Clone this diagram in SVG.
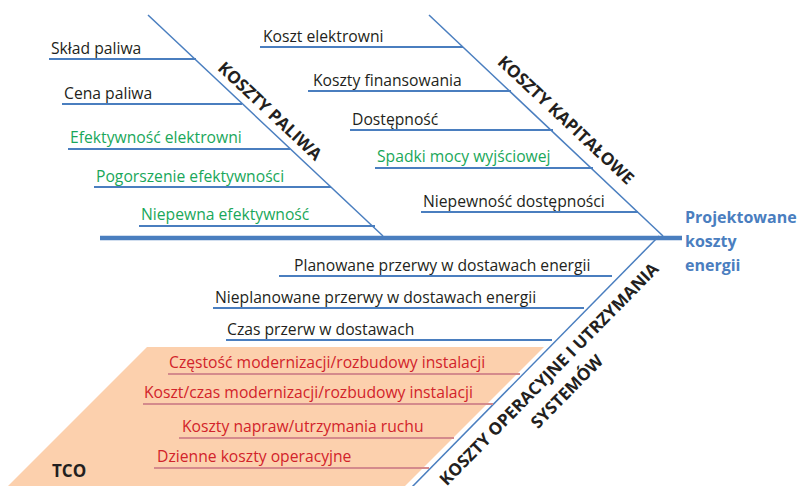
<svg xmlns="http://www.w3.org/2000/svg" width="804" height="486" viewBox="0 0 804 486">
<style>
.t{font-family:"Open Sans","Liberation Sans",sans-serif;font-size:15.7px;fill:#231f20}
.g{fill:#1aa75a}
.r{fill:#d2232a}
.b{font-family:"Open Sans","Liberation Sans",sans-serif;font-weight:bold;font-size:17px;fill:#231f20}
.res{font-family:"Open Sans","Liberation Sans",sans-serif;font-weight:bold;font-size:16px;fill:#4a7ebf}
.bl{stroke:#4a7ebf;stroke-width:2;fill:none}
.dg{stroke:#4a7ebf;stroke-width:1.5;fill:none}
.pl{stroke:#d48a8c;stroke-width:2;fill:none}
</style>
<rect width="804" height="486" fill="#ffffff"/>
<g id="tco">
<polygon points="147,347 544,347 405,486 8,486" fill="#fcd0ad"/>
<text class="b" x="52" y="477" font-size="16.5">TCO</text>
</g>
<g id="connectors">
<line x1="100" y1="238" x2="682" y2="238" stroke="#4a7ebf" stroke-width="4.5"/>
<line class="dg" x1="148" y1="15" x2="383" y2="236"/>
<line class="dg" x1="429" y1="15" x2="663" y2="236"/>
<line class="dg" x1="659" y1="236" x2="412" y2="487"/>
</g>
<g id="koszty-paliwa">
<text class="b" transform="translate(270,111) rotate(43.1)" x="0" y="6" text-anchor="middle">KOSZTY PALIWA</text>
</g>
<g id="sklad-paliwa"><line class="bl" x1="49" y1="59" x2="196" y2="59"/><text class="t" x="51" y="54">Skład paliwa</text></g>
<g id="cena-paliwa"><line class="bl" x1="62" y1="104" x2="242" y2="104"/><text class="t" x="64" y="99">Cena paliwa</text></g>
<g id="efektywnosc"><line class="bl" x1="68" y1="149" x2="290" y2="149"/><text class="t g" x="70" y="143">Efektywność elektrowni</text></g>
<g id="pogorszenie"><line class="bl" x1="94" y1="187" x2="331" y2="187"/><text class="t g" x="96" y="182">Pogorszenie efektywności</text></g>
<g id="niepewna"><line class="bl" x1="139" y1="226" x2="375" y2="226"/><text class="t g" x="141" y="220">Niepewna efektywność</text></g>
<g id="koszty-kapitalowe">
<text class="b" transform="translate(566,120) rotate(43.1)" x="0" y="6" text-anchor="middle">KOSZTY KAPITAŁOWE</text>
</g>
<g id="koszt-elektrowni"><line class="bl" x1="260" y1="47" x2="463" y2="47"/><text class="t" x="263" y="42">Koszt elektrowni</text></g>
<g id="koszty-finansowania"><line class="bl" x1="308" y1="91" x2="511" y2="91"/><text class="t" x="313" y="86">Koszty finansowania</text></g>
<g id="dostepnosc"><line class="bl" x1="350" y1="130" x2="553" y2="130"/><text class="t" x="352" y="125">Dostępność</text></g>
<g id="spadki"><line class="bl" x1="375" y1="168" x2="593" y2="168"/><text class="t g" x="377" y="162">Spadki mocy wyjściowej</text></g>
<g id="niepewnosc-dostepnosci"><line class="bl" x1="421" y1="212" x2="638" y2="212"/><text class="t" x="423" y="207">Niepewność dostępności</text></g>
<g id="koszty-operacyjne">
<text class="b" transform="translate(549,374) rotate(-45.5)" text-anchor="middle"><tspan x="0" y="6">KOSZTY OPERACYJNE I UTRZYMANIA</tspan><tspan x="0" y="31">SYSTEMÓW</tspan></text>
</g>
<g id="planowane"><line class="bl" x1="279" y1="276" x2="612" y2="276"/><text class="t" x="294" y="271">Planowane przerwy w dostawach energii</text></g>
<g id="nieplanowane"><line class="bl" x1="213" y1="308" x2="584" y2="308"/><text class="t" x="215" y="303">Nieplanowane przerwy w dostawach energii</text></g>
<g id="czas-przerw"><line class="bl" x1="226" y1="340" x2="552" y2="340"/><text class="t" x="227" y="335">Czas przerw w dostawach</text></g>
<g id="czestosc"><line class="pl" x1="168" y1="374" x2="520" y2="374"/><text class="t r" x="169" y="368">Częstość modernizacji/rozbudowy instalacji</text></g>
<g id="koszt-czas"><line class="pl" x1="143" y1="404" x2="493" y2="404"/><text class="t r" x="144" y="398">Koszt/czas modernizacji/rozbudowy instalacji</text></g>
<g id="koszty-napraw"><line class="pl" x1="179" y1="438" x2="454" y2="438"/><text class="t r" x="182" y="432">Koszty napraw/utrzymania ruchu</text></g>
<g id="dzienne"><line class="pl" x1="154" y1="468" x2="429" y2="468"/><text class="t r" x="157" y="462">Dzienne koszty operacyjne</text></g>
<g id="projektowane">
<text class="res" x="685" y="223">Projektowane</text>
<text class="res" x="685" y="247">koszty</text>
<text class="res" x="685" y="271">energii</text>
</g>
</svg>
